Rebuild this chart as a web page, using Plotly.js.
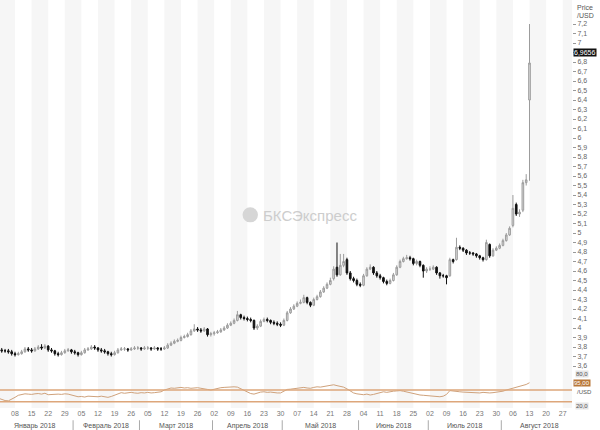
<!DOCTYPE html>
<html><head><meta charset="utf-8">
<script src="https://cdn.plot.ly/plotly-3.0.1.min.js"></script>
<style>html,body{margin:0;padding:0;background:#fff}#chart{width:600px;height:430px}</style>
</head><body><div id="chart"></div>
<script>
// ---- data (daily candles, trading days from 2018-01-01) ----
const startDate = '2018-01-01';
const openP = [
3.78,3.77,3.76,3.76,3.75,3.73,3.72,3.73,3.75,3.78,
3.77,3.76,3.78,3.80,3.79,3.81,3.77,3.76,3.73,3.72,
3.74,3.76,3.77,3.75,3.74,3.72,3.74,3.77,3.78,3.80,
3.79,3.77,3.76,3.75,3.73,3.72,3.74,3.77,3.78,3.78,
3.77,3.78,3.79,3.79,3.78,3.79,3.79,3.78,3.79,3.78,
3.78,3.79,3.82,3.84,3.86,3.87,3.90,3.91,3.93,3.97,
3.99,3.98,3.97,3.99,3.93,3.94,3.95,3.96,3.98,4.00,
4.03,4.05,4.08,4.14,4.11,4.10,4.09,4.08,4.00,4.02,
4.07,4.09,4.08,4.06,4.05,4.04,4.03,4.08,4.16,4.20,
4.23,4.26,4.27,4.32,4.27,4.24,4.30,4.33,4.38,4.42,
4.46,4.52,4.64,4.56,4.66,4.72,4.58,4.52,4.50,4.46,
4.45,4.55,4.62,4.64,4.58,4.55,4.53,4.49,4.47,4.50,
4.56,4.64,4.70,4.73,4.74,4.73,4.68,4.70,4.66,4.60,
4.62,4.62,4.64,4.58,4.55,4.55,4.55,4.72,4.72,4.85,
4.84,4.82,4.79,4.79,4.78,4.76,4.74,4.72,4.88,4.76,
4.82,4.84,4.87,4.92,4.98,5.08,5.30,5.20,5.24,5.53,
6.40];
const highP = [
3.80,3.79,3.78,3.78,3.77,3.75,3.75,3.77,3.80,3.80,
3.79,3.80,3.82,3.83,3.83,3.82,3.79,3.77,3.75,3.76,
3.78,3.79,3.78,3.77,3.75,3.76,3.79,3.80,3.82,3.82,
3.80,3.79,3.78,3.76,3.75,3.76,3.79,3.80,3.80,3.79,
3.80,3.81,3.81,3.80,3.81,3.81,3.80,3.81,3.80,3.80,
3.81,3.84,3.86,3.88,3.89,3.92,3.93,3.95,3.99,4.04,
4.01,4.00,4.01,4.00,3.96,3.97,3.98,4.00,4.02,4.05,
4.07,4.10,4.18,4.15,4.13,4.12,4.11,4.09,4.04,4.09,
4.11,4.11,4.09,4.08,4.07,4.06,4.10,4.18,4.22,4.25,
4.28,4.30,4.35,4.33,4.28,4.32,4.35,4.40,4.44,4.48,
4.53,4.65,4.90,4.78,4.78,4.74,4.60,4.54,4.52,4.48,
4.57,4.64,4.67,4.65,4.60,4.57,4.54,4.51,4.52,4.58,
4.66,4.72,4.75,4.77,4.76,4.74,4.72,4.71,4.67,4.64,
4.65,4.66,4.65,4.59,4.57,4.56,4.74,4.73,4.95,4.87,
4.85,4.83,4.81,4.80,4.79,4.77,4.75,4.93,4.89,4.84,
4.86,4.89,4.94,5.00,5.07,5.40,5.32,5.25,5.56,5.62,
7.20];
const lowP = [
3.75,3.74,3.74,3.73,3.71,3.70,3.71,3.72,3.74,3.75,
3.74,3.75,3.77,3.77,3.78,3.75,3.74,3.71,3.70,3.71,
3.73,3.75,3.73,3.72,3.70,3.71,3.73,3.76,3.77,3.77,
3.75,3.74,3.73,3.71,3.70,3.71,3.73,3.76,3.76,3.75,
3.76,3.77,3.77,3.76,3.77,3.77,3.76,3.77,3.76,3.76,
3.77,3.78,3.81,3.83,3.85,3.86,3.89,3.90,3.92,3.96,
3.96,3.95,3.96,3.91,3.91,3.92,3.94,3.95,3.97,3.99,
4.02,4.04,4.07,4.09,4.08,4.07,4.06,3.98,3.98,4.01,
4.06,4.06,4.04,4.03,4.02,4.01,4.02,4.07,4.15,4.19,
4.22,4.25,4.26,4.25,4.22,4.23,4.29,4.32,4.37,4.41,
4.45,4.50,4.54,4.55,4.64,4.56,4.50,4.48,4.44,4.43,
4.44,4.54,4.61,4.56,4.53,4.51,4.47,4.45,4.46,4.49,
4.55,4.63,4.69,4.72,4.71,4.66,4.66,4.64,4.53,4.58,
4.60,4.61,4.56,4.52,4.53,4.46,4.54,4.68,4.71,4.82,
4.80,4.77,4.77,4.76,4.74,4.72,4.70,4.71,4.74,4.75,
4.81,4.83,4.86,4.91,4.97,5.06,5.18,5.17,5.22,5.50,
5.55];
const closeP = [
3.77,3.76,3.76,3.75,3.73,3.72,3.73,3.75,3.78,3.77,
3.76,3.78,3.80,3.79,3.81,3.77,3.76,3.73,3.72,3.74,
3.76,3.77,3.75,3.74,3.72,3.74,3.77,3.78,3.80,3.79,
3.77,3.76,3.75,3.73,3.72,3.74,3.77,3.78,3.78,3.77,
3.78,3.79,3.79,3.78,3.79,3.79,3.78,3.79,3.78,3.78,
3.79,3.82,3.84,3.86,3.87,3.90,3.91,3.93,3.97,3.99,
3.98,3.97,3.99,3.93,3.94,3.95,3.96,3.98,4.00,4.03,
4.05,4.08,4.14,4.11,4.10,4.09,4.08,4.00,4.02,4.07,
4.09,4.08,4.06,4.05,4.04,4.03,4.08,4.16,4.20,4.23,
4.26,4.27,4.32,4.27,4.24,4.30,4.33,4.38,4.42,4.46,
4.50,4.62,4.56,4.66,4.70,4.58,4.52,4.50,4.46,4.45,
4.55,4.62,4.64,4.58,4.55,4.53,4.49,4.47,4.50,4.56,
4.64,4.70,4.73,4.74,4.73,4.68,4.70,4.66,4.60,4.62,
4.62,4.64,4.58,4.55,4.55,4.53,4.72,4.70,4.85,4.84,
4.82,4.79,4.79,4.78,4.76,4.74,4.72,4.90,4.76,4.82,
4.84,4.87,4.92,4.98,5.05,5.26,5.20,5.22,5.53,5.56,
6.79];
const indicator = [
42,38,34,33,38,45,52,54,57,56,
55,57,58,56,59,54,55,57,56,55,
57,56,53,50,47,48,46,49,48,46,
47,49,47,45,48,52,58,61,59,60,
62,60,59,61,60,62,60,61,63,64,
70,74,77,76,78,79,77,78,76,77,
78,76,75,72,70,73,75,78,79,80,
82,81,80,74,68,62,58,56,60,63,
64,62,63,61,60,60,66,72,73,75,
76,77,79,77,76,79,81,80,82,84,
86,88,85,83,80,74,68,60,57,55,
54,56,53,55,58,60,64,62,65,66,
67,68,66,63,60,58,55,53,52,51,
50,49,48,47,49,55,68,66,65,64,
63,62,63,61,61,60,62,60,60,61,
62,64,66,70,73,77,78,81,85,89,
95];
const indicatorLevels = [70, 30];
const weekTickLabels = ['01','08','15','22','29','05','12','19','26','05','12','19','26',
  '02','09','16','23','30','07','14','21','28','04','11','18','25',
  '02','09','16','23','30','06','13','20','27'];
const monthNames = ['Январь 2018','Февраль 2018','Март 2018','Апрель 2018','Май 2018','Июнь 2018','Июль 2018','Август 2018'];
const lastPriceLevel = 6.9;
const lastPriceText = '6,9656';
const lastIndicatorText = '95,00';

// ---- build ----
const nDays = 175;
const tradingDates = [];
{ const d = new Date(startDate + 'T12:00:00Z');
  while (tradingDates.length < nDays) { const wd = d.getUTCDay(); if (wd !== 0 && wd !== 6) tradingDates.push(new Date(d)); d.setUTCDate(d.getUTCDate() + 1); } }
const xIdx = closeP.map((_, i) => i);
const mondayIdx = []; tradingDates.forEach((d, i) => { if (d.getUTCDay() === 1) mondayIdx.push(i); });
const tickVals = mondayIdx.slice(0, weekTickLabels.length);

const priceTickVals = [], priceTickText = [];
for (let k = 36; k <= 72; k++) {
  const v = k / 10; priceTickVals.push(v);
  const t = k % 10 === 0 ? String(k / 10) : (k / 10).toFixed(1).replace('.', ',');
  priceTickText.push(Math.abs(v - lastPriceLevel) < 1e-9 ? '' : t);
}

const shapes = [];
for (let w = 0; w < tickVals.length; w += 2) {
  shapes.push({type:'rect', xref:'x', yref:'paper', x0: tickVals[w], x1: tickVals[w] + 5, y0: 0, y1: 1, fillcolor:'#f6f6f6', line:{width:0}, layer:'below'});
}
indicatorLevels.forEach(v => shapes.push({type:'line', xref:'paper', yref:'y2', x0:0, x1:1, y0:v, y1:v, line:{color:'#dda67a', width:1.5}}));
const annotations = [];
for (let m = 0; m < 8; m++) {
  const ids = []; tradingDates.forEach((d, i) => { if (d.getUTCMonth() === m) ids.push(i); });
  const c = (ids[0] + ids[ids.length - 1]) / 2;
  annotations.push({x: c, y: -0.043, xref:'x', yref:'paper', yanchor:'middle', text: monthNames[m], showarrow:false, font:{size:7, color:'#555'}});
  if (m > 0) shapes.push({type:'line', xref:'x', yref:'paper', x0: ids[0] - 0.5, x1: ids[0] - 0.5, y0: -0.055, y1: -0.03, line:{color:'#aaa', width:1}});
}
const rightLab = (y, yref, text, extra) => Object.assign({xref:'paper', x:1, xanchor:'left', yanchor:'middle', xshift:3, y, yref, text, showarrow:false, font:{size:7, color:'#555', family:'Liberation Sans'}}, extra || {});
annotations.push(rightLab(7.37, 'y', 'Price'));
annotations.push(rightLab(7.29, 'y', '/USD'));
annotations.push(rightLab(lastPriceLevel, 'y', lastPriceText, {bgcolor:'#111', borderpad:0, font:{size:7, color:'#fff', family:'Liberation Sans'}, xshift:1}));
annotations.push(rightLab(0.084, 'paper', '80,0', {bgcolor:'#e6e6e6', borderpad:0, font:{size:6, color:'#555', family:'Liberation Sans'}}));
annotations.push(rightLab(indicator[indicator.length - 1], 'y2', lastIndicatorText, {bgcolor:'#b9783a', borderpad:0, font:{size:6, color:'#fff', family:'Liberation Sans'}, xshift:1}));
annotations.push(rightLab(0.038, 'paper', '/USD', {font:{size:6, color:'#555', family:'Liberation Sans'}}));
annotations.push(rightLab(0.005, 'paper', '20,0', {bgcolor:'#e6e6e6', borderpad:0, font:{size:6, color:'#555', family:'Liberation Sans'}}));
// watermark
annotations.push({xref:'paper', yref:'paper', x: 0.542, y: 0.473, text:'БКСЭкспресс', showarrow:false, font:{size:15, color:'#cdcdcd', family:'Liberation Sans'}});
shapes.push({type:'circle', xref:'paper', yref:'paper', x0: 0.424, x1: 0.451, y0: 0.455, y1: 0.492, fillcolor:'#d6d6d6', line:{width:0}});

const traces = [
  {type:'candlestick', x: xIdx, open: openP, high: highP, low: lowP, close: closeP, xaxis:'x', yaxis:'y',
   increasing:{line:{color:'#9c9c9c', width:1}, fillcolor:'#dedede'},
   decreasing:{line:{color:'#111', width:1}, fillcolor:'#111'}, whiskerwidth:0, hoverinfo:'skip'},
  {type:'scatter', mode:'lines', x: xIdx, y: indicator, xaxis:'x', yaxis:'y2', line:{color:'#cfa27c', width:1}, hoverinfo:'skip'}
];

const layout = {
  width:600, height:430, margin:{l:0, r:28, t:0, b:22},
  paper_bgcolor:'#fff', plot_bgcolor:'#fff', showlegend:false, separators:', ',
  font:{family:'Liberation Sans', size:7, color:'#666'},
  xaxis:{range:[0.48, 172.8], anchor:'y2', tickmode:'array', tickvals: tickVals, ticktext: weekTickLabels,
         showgrid:false, zeroline:false, ticks:'', tickfont:{size:7, color:'#777'}, rangeslider:{visible:false}, fixedrange:true},
  yaxis:{domain:[0.0882, 1], range:[3.537, 7.453], side:'right', anchor:'x', tickmode:'array', tickvals: priceTickVals, ticktext: priceTickText,
         ticks:'outside', ticklen:3, tickcolor:'#999', showgrid:false, zeroline:false, tickfont:{size:7, color:'#666'}},
  yaxis2:{domain:[0, 0.0784], range:[8.5, 118], side:'right', anchor:'x', showticklabels:false, showgrid:false, zeroline:false},
  shapes, annotations
};
Plotly.newPlot('chart', traces, layout, {staticPlot:true, displayModeBar:false});
</script></body></html>
